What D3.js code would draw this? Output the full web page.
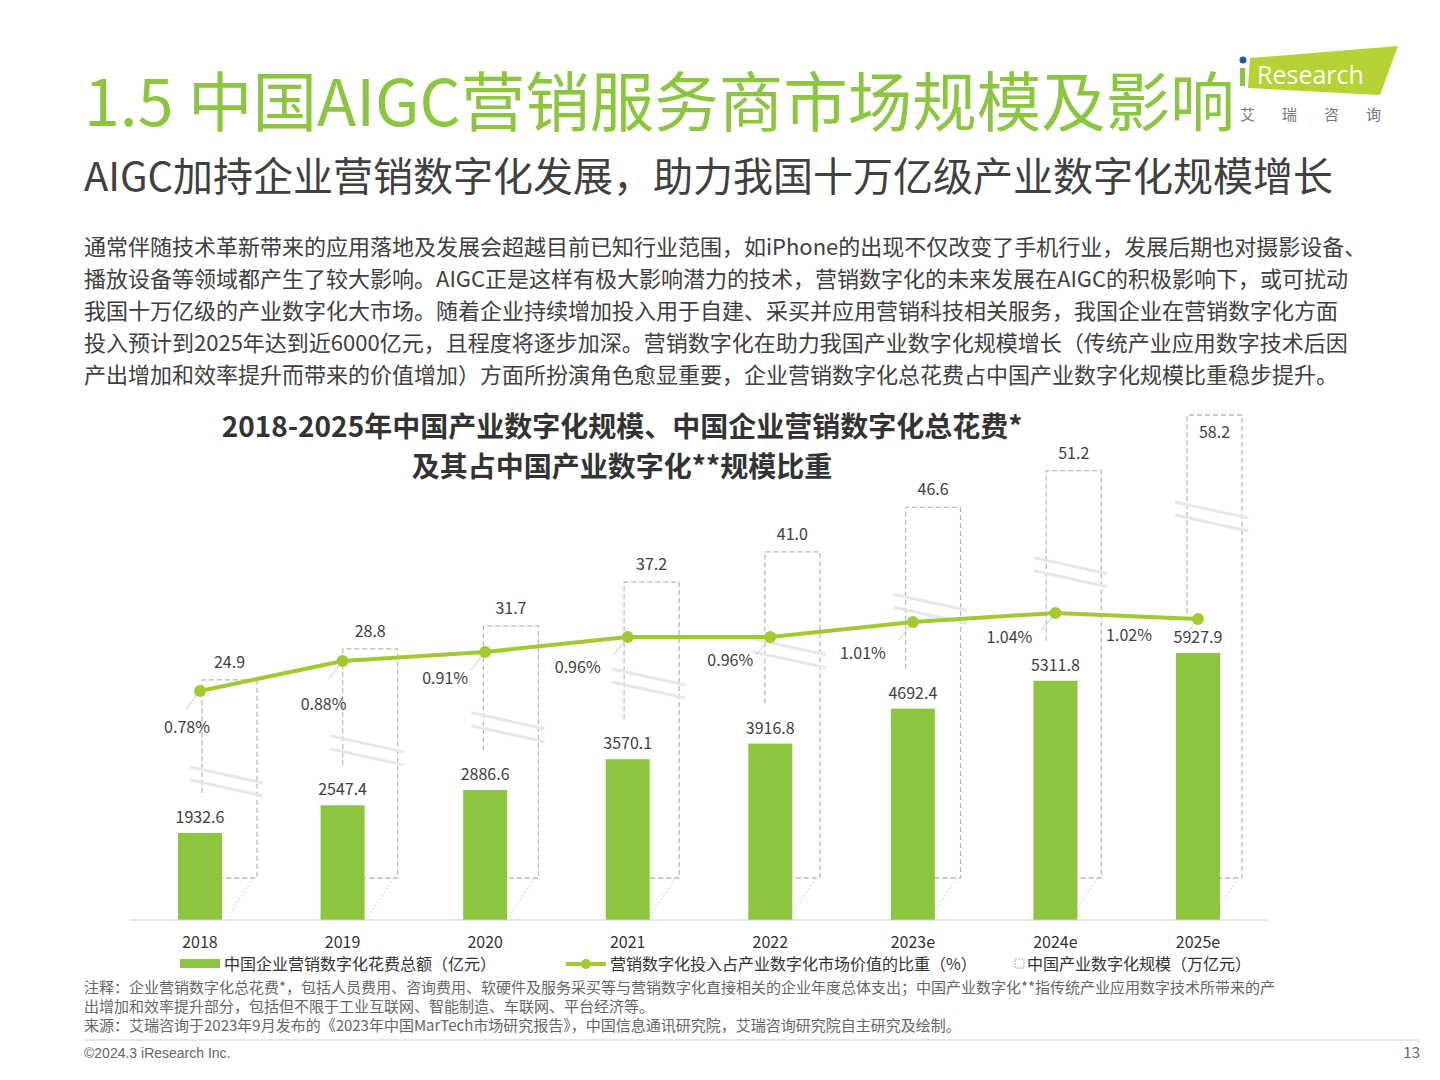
<!DOCTYPE html>
<html><head><meta charset="utf-8">
<script src="https://cdn.jsdelivr.net/npm/d3@7"></script>
<style>body{margin:0;background:#fff}svg{display:block;font-family:"Noto Sans CJK SC","Noto Sans",sans-serif}</style>
</head><body><svg id="c" width="1440" height="1080"></svg>
<script>
const years = ['2018','2019','2020','2021','2022','2023e','2024e','2025e'];
const spend = [1932.6, 2547.4, 2886.6, 3570.1, 3916.8, 4692.4, 5311.8, 5927.9];
const scale = [24.9, 28.8, 31.7, 37.2, 41.0, 46.6, 51.2, 58.2];
const share = [0.78, 0.88, 0.91, 0.96, 0.96, 1.01, 1.04, 1.02];
const paragraph = [
  '通常伴随技术革新带来的应用落地及发展会超越目前已知行业范围，如iPhone的出现不仅改变了手机行业，发展后期也对摄影设备、',
  '播放设备等领域都产生了较大影响。AIGC正是这样有极大影响潜力的技术，营销数字化的未来发展在AIGC的积极影响下，或可扰动',
  '我国十万亿级的产业数字化大市场。随着企业持续增加投入用于自建、采买并应用营销科技相关服务，我国企业在营销数字化方面',
  '投入预计到2025年达到近6000亿元，且程度将逐步加深。营销数字化在助力我国产业数字化规模增长（传统产业应用数字技术后因',
  '产出增加和效率提升而带来的价值增加）方面所扮演角色愈显重要，企业营销数字化总花费占中国产业数字化规模比重稳步提升。'
];

const svg = d3.select('#c');
const green = '#8cc63f', lineGreen = '#a3c932', dark = '#404040';

// header
svg.append('text').attr('x', 84).attr('y', 126).attr('font-size', 64.5).attr('fill', '#8cc63f').text('1.5 中国AIGC营销服务商市场规模及影响');
svg.append('polygon').attr('points', '1250,58 1398,46 1380,95 1248,88').attr('fill', '#b5d334');
svg.append('circle').attr('cx', 1243).attr('cy', 60).attr('r', 3.5).attr('fill', '#1d5aa8');
svg.append('rect').attr('x', 1240).attr('y', 68).attr('width', 5).attr('height', 18).attr('fill', '#8cc63f');
svg.append('text').attr('x', 1257).attr('y', 84).attr('font-size', 25).attr('fill', '#fff').attr('font-family', 'Open Sans').text('Research');
svg.append('text').attr('x', 1240).attr('y', 120).attr('font-size', 15).attr('fill', '#777').attr('letter-spacing', 27).text('艾瑞咨询');
svg.append('text').attr('x', 84).attr('y', 191).attr('font-size', 40).attr('fill', dark).text('AIGC加持企业营销数字化发展，助力我国十万亿级产业数字化规模增长');
svg.selectAll('.para').data(paragraph).enter().append('text')
  .attr('x', 84).attr('y', (d, i) => 255 + i * 32).attr('font-size', 22).attr('fill', dark).text(d => d);

// chart title
svg.append('text').attr('x', 622).attr('y', 437).attr('text-anchor', 'middle').attr('font-size', 28).attr('font-weight', 'bold').attr('fill', '#333').text('2018-2025年中国产业数字化规模、中国企业营销数字化总花费*');
svg.append('text').attr('x', 622).attr('y', 477).attr('text-anchor', 'middle').attr('font-size', 28).attr('font-weight', 'bold').attr('fill', '#333').text('及其占中国产业数字化**规模比重');

// scales
const x = d3.scalePoint().domain(years).range([200, 1198]);
const xBox = d3.scalePoint().domain(years).range([202, 1187]);
const yBar = d3.scaleLinear().domain([0, 5927.9]).range([920, 653]);
const yBox = d3.scaleLinear().domain([0, 58.2]).range([878, 415]);
const yLine = d3.scaleLinear().domain([0.78, 1.04]).range([691, 613]);
const pctOffset = [[-13, 42], [-19, 49], [-40, 32], [-50, 36], [-40, 29], [-50, 37], [-46, 30], [-69, 22]];

// dashed boxes
const g = svg.append('g');
years.forEach((yr, i) => {
  const l = xBox(yr), r = l + 55, t = yBox(scale[i]), b = yBox(0);
  g.append('path').attr('d', `M${l},${yBar(spend[i]) - 40}V${t}H${r}V${b}H${l + 20}`)
    .attr('fill', 'none').attr('stroke', '#bbb').attr('stroke-width', 1.3).attr('stroke-dasharray', '5,3');
  g.append('line').attr('x1', r - 4).attr('y1', b).attr('x2', r - 30).attr('y2', 918)
    .attr('stroke', '#ccc').attr('stroke-dasharray', '2,2');
  const by = t + 95;
  [0, 13].forEach(o => g.append('line').attr('x1', l - 12).attr('y1', by + o - 8).attr('x2', r + 6).attr('y2', by + o + 8)
    .attr('stroke', '#e8e8e8').attr('stroke-width', 3));
  g.append('text').attr('x', (l + r) / 2).attr('y', Math.max(t - 12, 438)).attr('text-anchor', 'middle').attr('font-size', 16).attr('fill', dark).text(scale[i].toFixed(1));
});

// bars
svg.selectAll('.bar').data(spend).enter().append('rect')
  .attr('x', (d, i) => x(years[i]) - 22).attr('width', 44)
  .attr('y', d => yBar(d)).attr('height', d => 920 - yBar(d)).attr('fill', green);
svg.selectAll('.bl').data(spend).enter().append('text')
  .attr('x', (d, i) => x(years[i])).attr('y', d => yBar(d) - 10).attr('text-anchor', 'middle')
  .attr('font-size', 16).attr('fill', dark).text(d => d.toFixed(1));

// axis
svg.append('line').attr('x1', 130).attr('x2', 1268).attr('y1', 920).attr('y2', 920).attr('stroke', '#ccc');
svg.selectAll('.xl').data(years).enter().append('text')
  .attr('x', d => x(d)).attr('y', 948).attr('text-anchor', 'middle').attr('font-size', 16).attr('fill', '#333').text(d => d);

// line
svg.append('path').datum(share)
  .attr('d', d3.line().x((d, i) => x(years[i])).y(d => yLine(d)))
  .attr('fill', 'none').attr('stroke', lineGreen).attr('stroke-width', 4);
share.forEach((d, i) => {
  const px = x(years[i]), py = yLine(d);
  svg.append('line').attr('x1', px).attr('y1', py).attr('x2', px - 14).attr('y2', py + 18).attr('stroke', '#ccc');
  svg.append('circle').attr('cx', px).attr('cy', py).attr('r', 6).attr('fill', lineGreen);
  svg.append('text').attr('x', px + pctOffset[i][0]).attr('y', py + pctOffset[i][1]).attr('text-anchor', 'middle')
    .attr('font-size', 16).attr('fill', dark).text(d.toFixed(2) + '%');
});

// legend
svg.append('rect').attr('x', 180).attr('y', 959).attr('width', 40).attr('height', 9).attr('fill', green);
svg.append('text').attr('x', 224).attr('y', 970).attr('font-size', 16).attr('fill', '#333').text('中国企业营销数字化花费总额（亿元）');
svg.append('line').attr('x1', 566).attr('x2', 606).attr('y1', 964).attr('y2', 964).attr('stroke', lineGreen).attr('stroke-width', 4);
svg.append('circle').attr('cx', 586).attr('cy', 964).attr('r', 5).attr('fill', lineGreen);
svg.append('text').attr('x', 610).attr('y', 970).attr('font-size', 16).attr('fill', '#333').text('营销数字化投入占产业数字化市场价值的比重（%）');
svg.append('rect').attr('x', 1015).attr('y', 959).attr('width', 9).attr('height', 9).attr('fill', 'none').attr('stroke', '#aaa').attr('stroke-dasharray', '2,1');
svg.append('text').attr('x', 1027).attr('y', 970).attr('font-size', 16).attr('fill', '#333').text('中国产业数字化规模（万亿元）');

// notes
const notes = [
  '注释：企业营销数字化总花费*，包括人员费用、咨询费用、软硬件及服务采买等与营销数字化直接相关的企业年度总体支出；中国产业数字化**指传统产业应用数字技术所带来的产',
  '出增加和效率提升部分，包括但不限于工业互联网、智能制造、车联网、平台经济等。',
  '来源：艾瑞咨询于2023年9月发布的《2023年中国MarTech市场研究报告》，中国信息通讯研究院，艾瑞咨询研究院自主研究及绘制。'
];
svg.selectAll('.note').data(notes).enter().append('text')
  .attr('x', 84).attr('y', (d, i) => 993 + i * 19).attr('font-size', 15).attr('fill', '#666').text(d => d);
svg.append('line').attr('x1', 84).attr('x2', 1420).attr('y1', 1040).attr('y2', 1040).attr('stroke', '#ccc');
svg.append('text').attr('x', 84).attr('y', 1058).attr('font-size', 14).attr('fill', '#666').attr('font-family', 'Liberation Sans').text('©2024.3 iResearch Inc.');
svg.append('text').attr('x', 1420).attr('y', 1058).attr('text-anchor', 'end').attr('font-size', 15).attr('fill', '#666').text('13');
</script></body></html>
